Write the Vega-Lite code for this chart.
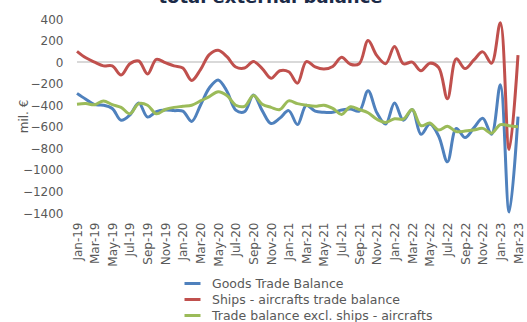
{
  "$schema": "https://vega.github.io/schema/vega-lite/v6.json",
  "autosize": {"type": "none"},
  "width": 441,
  "height": 194,
  "padding": {"left": 77, "top": 19, "right": 9, "bottom": 109},
  "background": "white",
  "config": {"view": {"stroke": null}, "font": "DejaVu Sans", "axisY": {"labelOverlap": false, "labelSeparation": -40, "labelBound": false}},
  "title": {"text": "total external balance", "fontSize": 18, "fontWeight": "bold", "color": "#1b2a48", "anchor": "middle", "dx": -27, "dy": 7.5, "offset": 0, "baseline": "alphabetic"},
  "data": {"values": [
    {"month": "Jan-19", "g": -290, "s": 100, "t": -390},
    {"month": "Feb-19", "g": -345, "s": 40, "t": -385},
    {"month": "Mar-19", "g": -395, "s": 0, "t": -395},
    {"month": "Apr-19", "g": -400, "s": -35, "t": -360},
    {"month": "May-19", "g": -430, "s": -35, "t": -395},
    {"month": "Jun-19", "g": -540, "s": -120, "t": -420},
    {"month": "Jul-19", "g": -490, "s": -15, "t": -480},
    {"month": "Aug-19", "g": -380, "s": 10, "t": -385},
    {"month": "Sep-19", "g": -510, "s": -110, "t": -400},
    {"month": "Oct-19", "g": -460, "s": 25, "t": -480},
    {"month": "Nov-19", "g": -445, "s": -5, "t": -440},
    {"month": "Dec-19", "g": -450, "s": -35, "t": -420},
    {"month": "Jan-20", "g": -455, "s": -55, "t": -410},
    {"month": "Feb-20", "g": -550, "s": -170, "t": -400},
    {"month": "Mar-20", "g": -400, "s": -70, "t": -360},
    {"month": "Apr-20", "g": -240, "s": 70, "t": -320},
    {"month": "May-20", "g": -165, "s": 110, "t": -275},
    {"month": "Jun-20", "g": -270, "s": 50, "t": -310},
    {"month": "Jul-20", "g": -445, "s": -45, "t": -400},
    {"month": "Aug-20", "g": -460, "s": -55, "t": -410},
    {"month": "Sep-20", "g": -305, "s": 5, "t": -310},
    {"month": "Oct-20", "g": -450, "s": -60, "t": -390},
    {"month": "Nov-20", "g": -570, "s": -150, "t": -420},
    {"month": "Dec-20", "g": -520, "s": -80, "t": -440},
    {"month": "Jan-21", "g": -450, "s": -90, "t": -360},
    {"month": "Feb-21", "g": -580, "s": -195, "t": -385},
    {"month": "Mar-21", "g": -400, "s": 5, "t": -400},
    {"month": "Apr-21", "g": -455, "s": -45, "t": -410},
    {"month": "May-21", "g": -465, "s": -65, "t": -400},
    {"month": "Jun-21", "g": -465, "s": -40, "t": -430},
    {"month": "Jul-21", "g": -445, "s": 45, "t": -485},
    {"month": "Aug-21", "g": -435, "s": -20, "t": -415},
    {"month": "Sep-21", "g": -455, "s": -15, "t": -440},
    {"month": "Oct-21", "g": -265, "s": 200, "t": -470},
    {"month": "Nov-21", "g": -470, "s": 60, "t": -530},
    {"month": "Dec-21", "g": -575, "s": -15, "t": -560},
    {"month": "Jan-22", "g": -380, "s": 145, "t": -525},
    {"month": "Feb-22", "g": -540, "s": -15, "t": -530},
    {"month": "Mar-22", "g": -440, "s": 0, "t": -440},
    {"month": "Apr-22", "g": -670, "s": -80, "t": -590},
    {"month": "May-22", "g": -575, "s": -10, "t": -565},
    {"month": "Jun-22", "g": -685, "s": -50, "t": -630},
    {"month": "Jul-22", "g": -925, "s": -340, "t": -595},
    {"month": "Aug-22", "g": -615, "s": 30, "t": -645},
    {"month": "Sep-22", "g": -700, "s": -60, "t": -640},
    {"month": "Oct-22", "g": -610, "s": 20, "t": -630},
    {"month": "Nov-22", "g": -520, "s": 95, "t": -615},
    {"month": "Dec-22", "g": -670, "s": -10, "t": -660},
    {"month": "Jan-23", "g": -210, "s": 365, "t": -580},
    {"month": "Feb-23", "g": -1390, "s": -810, "t": -590},
    {"month": "Mar-23", "g": -505, "s": 65, "t": -600}
  ]},
  "transform": [{"fold": ["g", "s", "t"], "as": ["key", "value"]}],
  "layer": [
    {
      "mark": {"type": "rule", "color": "#d9d9d9", "strokeWidth": 1.5},
      "encoding": {"y": {"datum": 0, "type": "quantitative"}}
    },
    {
      "mark": {"type": "line", "strokeWidth": 3, "interpolate": "catmull-rom"},
      "encoding": {
        "x": {"field": "month", "type": "ordinal", "sort": null, "scale": {"type": "point", "padding": 0},
              "axis": {"values": ["Jan-19","Mar-19","May-19","Jul-19","Sep-19","Nov-19","Jan-20","Mar-20","May-20","Jul-20","Sep-20","Nov-20","Jan-21","Mar-21","May-21","Jul-21","Sep-21","Nov-21","Jan-22","Mar-22","May-22","Jul-22","Sep-22","Nov-22","Jan-23","Mar-23"],
                       "labelAngle": -90, "title": null, "domain": false, "ticks": false, "grid": false, "labelPadding": 9, "labelFontSize": 12, "labelColor": "#595959", "labelOverlap": false}},
        "y": {"field": "value", "type": "quantitative", "title": "mil. €", "scale": {"domain": [-1400, 400], "nice": false},
              "axis": {"tickCount": 9, "format": "d", "labelOverlap": false, "labelSeparation": -40, "domain": false, "ticks": false, "grid": false, "labelPadding": 14, "labelFontSize": 12, "labelColor": "#595959", "titleFontSize": 12, "titleFontWeight": "normal", "titleColor": "#595959", "titlePadding": -8}},
        "color": {"field": "key", "type": "nominal",
                  "scale": {"domain": ["g", "s", "t"], "range": ["#4f81bd", "#c0504d", "#9bbb59"]},
                  "legend": {"orient": "none", "legendX": 109, "legendY": 258, "title": null, "symbolType": "M-1.6,0H1.6", "symbolSize": 100, "symbolStrokeWidth": 3, "labelFontSize": 12.5, "labelColor": "#595959", "labelLimit": 400, "rowPadding": 3, "labelOffset": 13,
                             "labelExpr": "datum.value == 'g' ? 'Goods Trade Balance' : datum.value == 's' ? 'Ships - aircrafts trade balance' : 'Trade balance excl. ships - aircrafts'"}}
      }
    }
  ]
}
